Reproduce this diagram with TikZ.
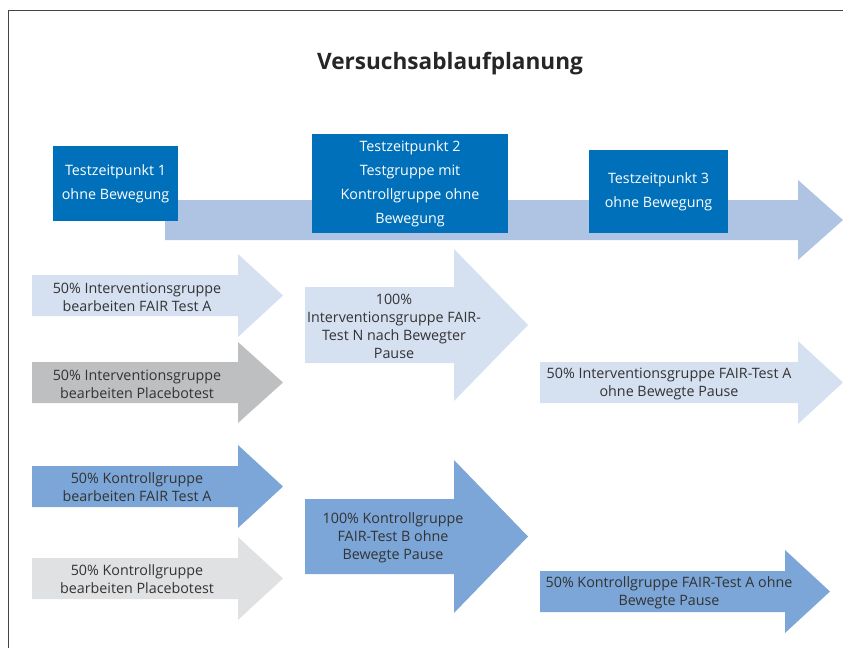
\documentclass[tikz,border=0pt]{standalone}
\usepackage{fontspec}
\setmainfont{Open Sans}
\usepackage{xcolor}
\usepackage{tikz}
\usetikzlibrary{positioning,calc}
\definecolor{zeitblau}{HTML}{0070BA}
\definecolor{zeitpfeil}{HTML}{AFC4E3}
\definecolor{hellblau}{HTML}{D5E0F1}
\definecolor{mittelblau}{HTML}{7BA6D7}
\definecolor{placebograu}{HTML}{BEBFC1}
\definecolor{hellgrau}{HTML}{E0E1E3}
\definecolor{textgrau}{HTML}{333333}
\definecolor{rahmengrau}{HTML}{444444}

% #1 colour, #2 left x, #3 neck x, #4 tip x, #5 shaft top, #6 shaft bottom, #7 head overhang
\newcommand{\pfeil}[7]{%
  \fill[#1] (#2,#5) -- (#3,#5) -- (#3,#5-#7) -- (#4,{(#5+#6)/2})
    -- (#3,#6+#7) -- (#3,#6) -- (#2,#6) -- cycle;}

\tikzset{
  zeitbox/.style={fill=zeitblau, text=white, align=center, inner sep=0pt,
    font=\fontsize{14.3}{24}\selectfont},
  pfeiltext/.style={text=textgrau, align=center, inner sep=0pt,
    font=\fontsize{14.3}{18}\selectfont}
}

\begin{document}
\begin{tikzpicture}[x=1pt,y=-1pt]
    \useasboundingbox (0,0) rectangle (843,648);
    \draw[rahmengrau, line width=1.4pt] (8.5,648) -- (8.5,10.7) -- (843,10.7);

    \node[text=black!85, font=\fontsize{22.6}{26}\selectfont\bfseries] (titel) at (450,64) {Versuchsablaufplanung};

    % Zeitachse
    \pfeil{zeitpfeil}{165}{798}{843}{200}{240}{20}
    \node[zeitbox, minimum width=125, minimum height=75] (tz1) at (115.5,183.5)
        {Testzeitpunkt 1\\ohne Bewegung};
    \node[zeitbox, minimum width=196, minimum height=99] (tz2) at (410,183.5)
        {Testzeitpunkt 2\\Testgruppe mit\\Kontrollgruppe ohne\\Bewegung};
    \node[zeitbox, minimum width=139, minimum height=83] (tz3) at (658.5,191.5)
        {Testzeitpunkt 3\\ohne Bewegung};

    % Testzeitpunkt 1
    \pfeil{hellblau}{32}{238}{283}{275}{316}{21}
    \node[pfeiltext] (ifa) at (137,297) {50\% Interventionsgruppe\\bearbeiten FAIR Test A};
    \pfeil{placebograu}{32}{238}{283}{362}{403}{20}
    \node[pfeiltext] (ipl) at (137,384) {50\% Interventionsgruppe\\bearbeiten Placebotest};
    \pfeil{mittelblau}{32}{238}{283}{466}{507}{21}
    \node[pfeiltext] (kfa) at (137,487) {50\% Kontrollgruppe\\bearbeiten FAIR Test A};
    \pfeil{hellgrau}{32}{238}{283}{558}{599}{21}
    \node[pfeiltext] (kpl) at (137,579) {50\% Kontrollgruppe\\bearbeiten Placebotest};

    % Testzeitpunkt 2
    \pfeil{hellblau}{305}{454}{528}{287}{363}{38}
    \node[pfeiltext] (ifn) at (394,326) {100\%\\Interventionsgruppe FAIR-\\Test N nach Bewegter\\Pause};
    \pfeil{mittelblau}{305}{454}{528}{499}{574}{39}
    \node[pfeiltext] (kfb) at (393,538) {100\% Kontrollgruppe\\FAIR-Test B ohne\\Bewegte Pause};

    % Testzeitpunkt 3
    \pfeil{hellblau}{540}{798}{843}{362}{403}{21}
    \node[pfeiltext] (ifa3) at (669,384) {50\% Interventionsgruppe FAIR-Test A\\ohne Bewegte Pause};
    \pfeil{mittelblau}{540}{785}{830}{571}{612}{21}
    \node[pfeiltext] (kfa3) at (669,593) {50\% Kontrollgruppe FAIR-Test A ohne\\Bewegte Pause};
\end{tikzpicture}
\end{document}
